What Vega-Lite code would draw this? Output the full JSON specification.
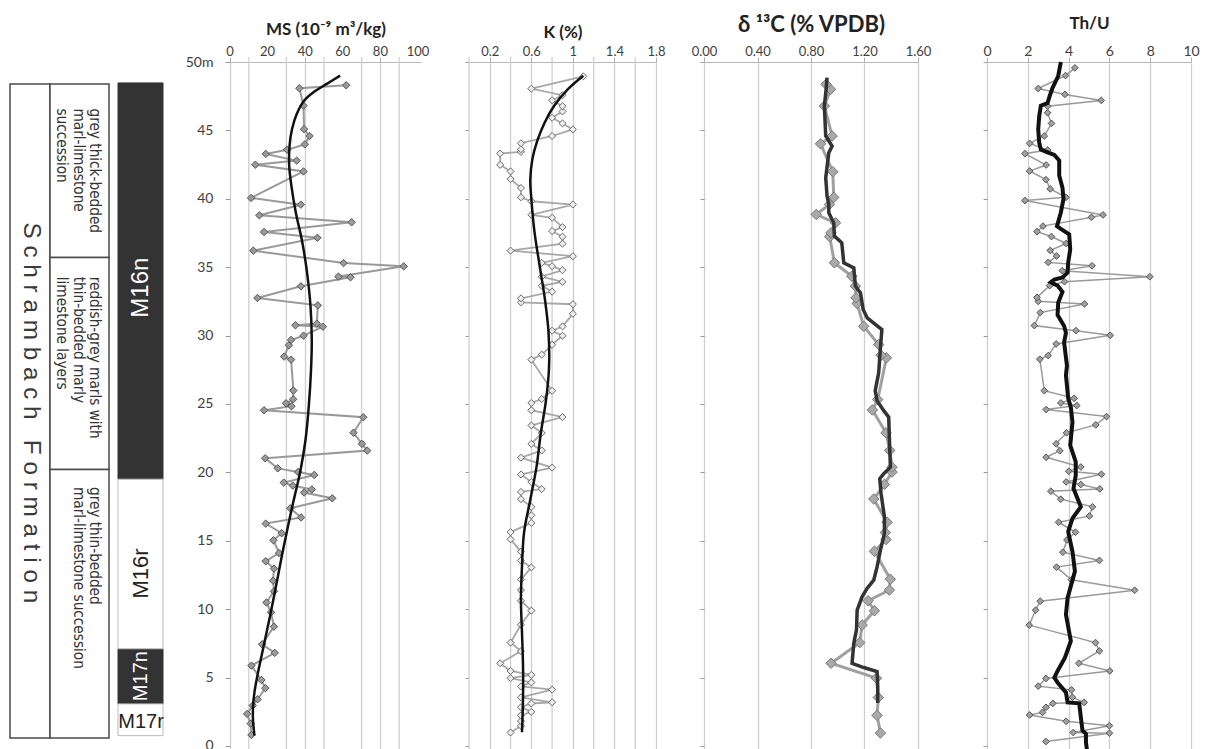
{
"$schema": "https://vega.github.io/schema/vega-lite/v6.json",
"background": "white",
"padding": {"left": 9, "top": 13, "right": 0, "bottom": 0},
"bounds": "flush",
"spacing": 48,
"config": {"view": {"stroke": null}, "axis": {"labelOverlap": false, "labelBound": false, "labelSeparation": 0}},
"datasets": {
"formation": [{"unit": "Schrambach Formation", "top": 48.4, "bottom": 0.58, "label": "S c h r a m b a c h \u00a0\u00a0F o r m a t i o n", "label_at": 24.35}],
"litho": [
{"unit": "upper", "top": 48.4, "bottom": 35.7, "text": "grey thick-bedded\nmarl-limestone\nsuccession", "text_at": 46.6},
{"unit": "middle", "top": 35.7, "bottom": 20.2, "text": "reddish-grey marls with\nthin-bedded marly\nlimestone layers", "text_at": 34.3},
{"unit": "lower", "top": 20.2, "bottom": 0.58, "text": "grey thin-bedded\nmarl-limestone succession", "text_at": 18.93}
],
"magneto": [
{"chron": "M16n", "polarity": "normal", "top": 48.47, "bottom": 19.5, "label_at": 33.5},
{"chron": "M16r", "polarity": "reversed", "top": 19.5, "bottom": 7.1, "label_at": 12.6},
{"chron": "M17n", "polarity": "normal", "top": 7.1, "bottom": 3.07, "label_at": 5.1},
{"chron": "M17r", "polarity": "reversed", "top": 3.07, "bottom": 0.75, "label_at": 1.75}
],
"ms_minor": [{"g": 10}, {"g": 30}, {"g": 50}, {"g": 70}, {"g": 90}],
"ms_ticks": [{"g": 0}, {"g": 20}, {"g": 40}, {"g": 60}, {"g": 80}, {"g": 100}],
"k_minor": [{"g": 0}, {"g": 0.4}, {"g": 0.8}, {"g": 1.2}, {"g": 1.6}],
"ms": [{"d":0.8,"v":11.4},{"d":1.63,"v":11.0},{"d":2.34,"v":9.1},{"d":2.95,"v":12.1},{"d":3.41,"v":14.7},{"d":4.22,"v":18.8},{"d":4.82,"v":16.7},{"d":5.87,"v":11.4},{"d":6.8,"v":23.8},{"d":7.43,"v":17.1},{"d":8.72,"v":23.4},{"d":9.77,"v":21.8},{"d":10.48,"v":19.4},{"d":11.3,"v":23.4},{"d":12.08,"v":22.9},{"d":12.96,"v":23.4},{"d":13.5,"v":19.0},{"d":14.1,"v":26.1},{"d":15.03,"v":23.1},{"d":15.55,"v":27.5},{"d":16.25,"v":19.0},{"d":16.7,"v":37.8},{"d":17.37,"v":32.1},{"d":18.1,"v":54.4},{"d":18.52,"v":39.4},{"d":18.75,"v":43.5},{"d":19.03,"v":33.4},{"d":19.25,"v":28.6},{"d":19.81,"v":44.8},{"d":20.03,"v":36.2},{"d":20.29,"v":25.4},{"d":21.03,"v":18.7},{"d":21.59,"v":73.0},{"d":22.08,"v":70.2},{"d":22.9,"v":65.7},{"d":24.03,"v":70.9},{"d":24.54,"v":18.1},{"d":24.83,"v":32.7},{"d":25.05,"v":29.8},{"d":25.34,"v":33.6},{"d":25.98,"v":33.7},{"d":28.24,"v":32.5},{"d":28.46,"v":28.8},{"d":29.29,"v":31.3},{"d":29.68,"v":32.5},{"d":29.99,"v":39.1},{"d":30.65,"v":49.4},{"d":30.75,"v":34.8},{"d":30.87,"v":46.2},{"d":32.21,"v":46.7},{"d":32.75,"v":14.6},{"d":33.6,"v":37.7},{"d":34.26,"v":64.1},{"d":34.31,"v":57.7},{"d":35.06,"v":92.4},{"d":35.3,"v":60.4},{"d":36.21,"v":12.4},{"d":37.15,"v":46.5},{"d":37.57,"v":18.1},{"d":38.28,"v":64.7},{"d":38.79,"v":15.6},{"d":39.57,"v":37.7},{"d":40.06,"v":11.2},{"d":42.0,"v":39.1},{"d":42.49,"v":13.5},{"d":42.79,"v":35.5},{"d":43.28,"v":19.0},{"d":43.59,"v":30.4},{"d":43.98,"v":39.8},{"d":44.59,"v":42.3},{"d":45.09,"v":39.4},{"d":46.81,"v":39.1},{"d":48.08,"v":36.9},{"d":48.3,"v":61.8}],
"ms_trend": [{"d":0.75,"v":13.0},{"d":2.0,"v":12.2},{"d":3.0,"v":12.3},{"d":4.0,"v":13.1},{"d":5.15,"v":14.6},{"d":7.1,"v":17.6},{"d":9.5,"v":21.3},{"d":11.7,"v":24.5},{"d":13.9,"v":27.6},{"d":16.1,"v":30.9},{"d":17.8,"v":33.6},{"d":18.8,"v":35.3},{"d":20.0,"v":37.3},{"d":22.4,"v":40.2},{"d":25.0,"v":42.0},{"d":27.5,"v":43.1},{"d":29.7,"v":43.5},{"d":32.2,"v":42.8},{"d":35.0,"v":40.6},{"d":37.0,"v":38.2},{"d":39.0,"v":35.0},{"d":41.0,"v":32.6},{"d":42.4,"v":31.5},{"d":43.9,"v":31.7},{"d":45.1,"v":33.0},{"d":46.2,"v":35.5},{"d":47.2,"v":39.6},{"d":47.8,"v":44.5},{"d":48.4,"v":51.5},{"d":49.0,"v":58.6}],
"k": [{"d":0.98,"v":0.4},{"d":1.46,"v":0.5},{"d":1.82,"v":0.5},{"d":2.23,"v":0.5},{"d":2.49,"v":0.6},{"d":2.83,"v":0.5},{"d":3.1,"v":0.6},{"d":3.19,"v":0.8},{"d":3.55,"v":0.5},{"d":4.11,"v":0.8},{"d":4.35,"v":0.5},{"d":4.64,"v":0.6},{"d":4.95,"v":0.4},{"d":5.19,"v":0.6},{"d":5.48,"v":0.4},{"d":6.04,"v":0.3},{"d":6.93,"v":0.5},{"d":7.55,"v":0.4},{"d":8.86,"v":0.5},{"d":9.89,"v":0.6},{"d":10.61,"v":0.5},{"d":11.39,"v":0.5},{"d":12.16,"v":0.5},{"d":13.05,"v":0.6},{"d":13.55,"v":0.5},{"d":14.2,"v":0.5},{"d":15.1,"v":0.4},{"d":15.63,"v":0.4},{"d":16.3,"v":0.6},{"d":16.86,"v":0.6},{"d":17.48,"v":0.6},{"d":18.04,"v":0.5},{"d":18.57,"v":0.5},{"d":18.78,"v":0.7},{"d":19.29,"v":0.6},{"d":19.84,"v":0.5},{"d":20.35,"v":0.8},{"d":21.07,"v":0.5},{"d":21.6,"v":0.7},{"d":22.08,"v":0.6},{"d":22.88,"v":0.7},{"d":23.43,"v":0.6},{"d":24.04,"v":0.9},{"d":24.54,"v":0.6},{"d":25.07,"v":0.6},{"d":25.36,"v":0.7},{"d":25.96,"v":0.8},{"d":28.24,"v":0.6},{"d":28.61,"v":0.7},{"d":29.33,"v":0.8},{"d":29.99,"v":0.9},{"d":30.35,"v":0.8},{"d":30.67,"v":0.9},{"d":31.59,"v":1.0},{"d":32.29,"v":1.0},{"d":32.43,"v":0.5},{"d":32.72,"v":0.5},{"d":33.21,"v":0.8},{"d":33.64,"v":0.7},{"d":33.93,"v":0.9},{"d":34.3,"v":0.7},{"d":34.78,"v":0.9},{"d":35.07,"v":0.8},{"d":35.31,"v":0.7},{"d":35.8,"v":1.0},{"d":36.21,"v":0.4},{"d":36.72,"v":0.9},{"d":37.23,"v":0.9},{"d":37.64,"v":0.8},{"d":37.93,"v":0.9},{"d":38.61,"v":0.8},{"d":38.83,"v":0.6},{"d":39.58,"v":1.0},{"d":39.82,"v":0.6},{"d":40.11,"v":0.5},{"d":40.79,"v":0.5},{"d":41.44,"v":0.4},{"d":42.0,"v":0.4},{"d":42.48,"v":0.3},{"d":43.31,"v":0.3},{"d":43.43,"v":0.5},{"d":43.62,"v":0.5},{"d":44.06,"v":0.5},{"d":44.59,"v":0.8},{"d":45.07,"v":1.0},{"d":45.51,"v":0.9},{"d":45.92,"v":0.8},{"d":46.38,"v":0.9},{"d":46.77,"v":0.9},{"d":47.2,"v":0.8},{"d":47.57,"v":0.9},{"d":48.05,"v":0.6},{"d":48.95,"v":1.1}],
"k_trend": [{"d":1.0,"v":0.51},{"d":3.5,"v":0.52},{"d":5.9,"v":0.52},{"d":8.3,"v":0.51},{"d":10.7,"v":0.5},{"d":13.1,"v":0.51},{"d":15.6,"v":0.53},{"d":18.0,"v":0.59},{"d":20.4,"v":0.65},{"d":22.8,"v":0.69},{"d":25.2,"v":0.74},{"d":27.6,"v":0.77},{"d":30.3,"v":0.765},{"d":32.7,"v":0.73},{"d":35.1,"v":0.68},{"d":37.6,"v":0.63},{"d":40.0,"v":0.6},{"d":41.4,"v":0.59},{"d":42.9,"v":0.61},{"d":44.3,"v":0.66},{"d":45.6,"v":0.73},{"d":46.8,"v":0.82},{"d":48.0,"v":0.95},{"d":49.0,"v":1.1}],
"c": [{"d":0.94,"v":1.319},{"d":2.23,"v":1.294},{"d":3.54,"v":1.303},{"d":4.95,"v":1.289},{"d":6.04,"v":0.95},{"d":7.55,"v":1.164},{"d":8.84,"v":1.182},{"d":9.88,"v":1.274},{"d":10.61,"v":1.227},{"d":11.39,"v":1.386},{"d":12.19,"v":1.393},{"d":14.23,"v":1.274},{"d":15.09,"v":1.361},{"d":15.6,"v":1.356},{"d":16.35,"v":1.369},{"d":18.05,"v":1.269},{"d":19.12,"v":1.349},{"d":20.02,"v":1.406},{"d":20.38,"v":1.406},{"d":21.6,"v":1.389},{"d":22.89,"v":1.361},{"d":24.56,"v":1.259},{"d":25.32,"v":1.299},{"d":28.37,"v":1.364},{"d":28.56,"v":1.324},{"d":29.34,"v":1.306},{"d":30.68,"v":1.194},{"d":32.34,"v":1.145},{"d":32.76,"v":1.137},{"d":33.61,"v":1.132},{"d":34.34,"v":1.105},{"d":35.32,"v":0.975},{"d":37.22,"v":0.94},{"d":37.51,"v":0.95},{"d":38.24,"v":0.983},{"d":38.85,"v":0.839},{"d":39.59,"v":0.938},{"d":40.1,"v":0.97},{"d":41.98,"v":0.963},{"d":44.02,"v":0.871},{"d":44.59,"v":0.958},{"d":46.78,"v":0.9},{"d":48.0,"v":0.946},{"d":48.37,"v":0.913}],
"c_smooth": [{"d":3.13,"v":1.299},{"d":4.34,"v":1.299},{"d":5.44,"v":1.294},{"d":5.73,"v":1.194},{"d":6.04,"v":1.107},{"d":7.5,"v":1.12},{"d":8.48,"v":1.14},{"d":9.93,"v":1.145},{"d":10.9,"v":1.182},{"d":11.51,"v":1.219},{"d":12.12,"v":1.269},{"d":13.09,"v":1.294},{"d":14.31,"v":1.319},{"d":15.52,"v":1.349},{"d":16.74,"v":1.349},{"d":18.44,"v":1.324},{"d":19.53,"v":1.314},{"d":19.9,"v":1.344},{"d":20.38,"v":1.394},{"d":21.6,"v":1.389},{"d":24.03,"v":1.381},{"d":24.51,"v":1.344},{"d":25.24,"v":1.294},{"d":25.97,"v":1.28},{"d":27.27,"v":1.306},{"d":29.22,"v":1.32},{"d":30.44,"v":1.33},{"d":31.3,"v":1.22},{"d":31.9,"v":1.19},{"d":33.12,"v":1.17},{"d":33.61,"v":1.132},{"d":34.95,"v":1.12},{"d":35.32,"v":1.045},{"d":36.78,"v":1.03},{"d":37.27,"v":0.975},{"d":38.24,"v":0.97},{"d":38.98,"v":0.933},{"d":39.6,"v":0.933},{"d":40.2,"v":0.92},{"d":41.54,"v":0.91},{"d":43.37,"v":0.933},{"d":43.85,"v":0.958},{"d":44.6,"v":0.91},{"d":46.8,"v":0.9},{"d":48.0,"v":0.913},{"d":48.85,"v":0.92}],
"thu": [{"d":0.32,"v":2.89},{"d":0.93,"v":6.0},{"d":0.98,"v":4.23},{"d":1.48,"v":6.0},{"d":1.8,"v":3.88},{"d":2.26,"v":2.09},{"d":2.45,"v":2.72},{"d":2.82,"v":2.89},{"d":3.11,"v":3.23},{"d":3.18,"v":4.76},{"d":3.55,"v":4.19},{"d":4.1,"v":4.14},{"d":4.37,"v":2.51},{"d":4.93,"v":2.89},{"d":5.48,"v":6.02},{"d":6.04,"v":4.5},{"d":6.94,"v":5.51},{"d":7.55,"v":5.32},{"d":8.83,"v":2.07},{"d":9.92,"v":2.38},{"d":10.58,"v":2.61},{"d":11.38,"v":7.24},{"d":12.15,"v":4.14},{"d":13.07,"v":3.41},{"d":13.56,"v":5.51},{"d":14.16,"v":3.72},{"d":15.06,"v":3.92},{"d":15.62,"v":4.34},{"d":16.35,"v":3.51},{"d":16.81,"v":5.02},{"d":17.48,"v":5.17},{"d":18.04,"v":3.62},{"d":18.62,"v":3.13},{"d":18.79,"v":5.53},{"d":19.11,"v":4.6},{"d":19.3,"v":3.88},{"d":19.86,"v":5.61},{"d":20.08,"v":4.01},{"d":20.39,"v":4.6},{"d":21.1,"v":2.9},{"d":21.58,"v":3.57},{"d":22.09,"v":3.39},{"d":22.89,"v":3.9},{"d":23.47,"v":5.33},{"d":24.08,"v":5.86},{"d":24.59,"v":2.9},{"d":24.88,"v":4.4},{"d":25.07,"v":3.62},{"d":25.41,"v":4.27},{"d":25.97,"v":2.81},{"d":28.27,"v":2.59},{"d":28.54,"v":3.0},{"d":29.39,"v":3.39},{"d":30.02,"v":6.04},{"d":30.36,"v":4.36},{"d":30.73,"v":2.32},{"d":31.68,"v":2.61},{"d":32.31,"v":4.78},{"d":32.5,"v":2.51},{"d":32.79,"v":2.45},{"d":33.65,"v":3.07},{"d":33.94,"v":3.8},{"d":34.3,"v":7.98},{"d":34.74,"v":3.69},{"d":35.1,"v":5.15},{"d":35.35,"v":3.0},{"d":35.81,"v":3.41},{"d":36.22,"v":3.1},{"d":36.73,"v":3.88},{"d":37.24,"v":3.16},{"d":37.6,"v":2.45},{"d":38.0,"v":2.74},{"d":38.65,"v":5.12},{"d":38.82,"v":5.69},{"d":39.87,"v":1.86},{"d":40.11,"v":3.87},{"d":40.72,"v":3.1},{"d":41.4,"v":2.89},{"d":42.03,"v":2.09},{"d":42.47,"v":2.9},{"d":43.3,"v":1.86},{"d":43.57,"v":2.97},{"d":44.05,"v":2.09},{"d":44.59,"v":2.81},{"d":45.51,"v":3.16},{"d":46.29,"v":2.97},{"d":46.77,"v":2.97},{"d":47.19,"v":5.6},{"d":47.63,"v":3.82},{"d":48.06,"v":2.51},{"d":49.01,"v":3.85},{"d":49.57,"v":4.31}],
"thu_avg": [{"d":-0.3,"v":4.9},{"d":0.27,"v":4.85},{"d":0.88,"v":4.85},{"d":1.12,"v":4.68},{"d":2.09,"v":4.6},{"d":3.11,"v":4.52},{"d":3.18,"v":3.95},{"d":3.91,"v":3.87},{"d":4.64,"v":3.46},{"d":5.0,"v":3.3},{"d":5.48,"v":3.46},{"d":6.45,"v":3.82},{"d":7.67,"v":4.11},{"d":9.6,"v":3.87},{"d":10.82,"v":3.95},{"d":12.76,"v":4.31},{"d":14.21,"v":4.19},{"d":15.67,"v":3.98},{"d":16.64,"v":4.19},{"d":17.48,"v":4.6},{"d":18.82,"v":4.24},{"d":19.79,"v":4.35},{"d":20.76,"v":4.35},{"d":21.97,"v":4.08},{"d":23.67,"v":4.19},{"d":24.76,"v":4.11},{"d":25.4,"v":3.98},{"d":27.1,"v":3.87},{"d":27.8,"v":3.92},{"d":29.5,"v":3.78},{"d":30.2,"v":3.87},{"d":30.7,"v":3.78},{"d":31.5,"v":3.46},{"d":32.4,"v":3.49},{"d":33.2,"v":3.7},{"d":33.65,"v":3.46},{"d":33.9,"v":3.13},{"d":34.1,"v":3.3},{"d":34.25,"v":3.7},{"d":34.6,"v":3.95},{"d":35.35,"v":3.98},{"d":36.3,"v":4.08},{"d":37.4,"v":4.03},{"d":37.8,"v":3.62},{"d":38.0,"v":3.43},{"d":39.0,"v":3.62},{"d":40.0,"v":3.75},{"d":40.8,"v":3.7},{"d":41.7,"v":3.54},{"d":42.8,"v":3.54},{"d":43.2,"v":3.3},{"d":43.4,"v":2.97},{"d":43.6,"v":2.64},{"d":44.1,"v":2.56},{"d":45.07,"v":2.51},{"d":46.05,"v":2.56},{"d":46.8,"v":2.64},{"d":47.0,"v":2.97},{"d":47.5,"v":3.07},{"d":48.1,"v":3.21},{"d":48.96,"v":3.49},{"d":50.0,"v":3.62}]
},
"hconcat": [
{
"width": 172, "height": 688,
"layer": [
{"data": {"name": "formation"}, "mark": {"type": "rect", "fill": "white", "stroke": "#4a4a4a", "strokeWidth": 1.5},
 "encoding": {"x": {"datum": 0, "type": "quantitative", "scale": {"domain": [0, 172], "nice": false, "zero": false}, "axis": null}, "x2": {"datum": 40},
  "y": {"field": "top", "type": "quantitative", "scale": {"domain": [-0.3, 50], "nice": false, "zero": false}, "axis": null}, "y2": {"field": "bottom"}}},
{"data": {"name": "litho"}, "mark": {"type": "rect", "fill": "white", "stroke": "#4a4a4a", "strokeWidth": 1.5},
 "encoding": {"x": {"datum": 40, "type": "quantitative"}, "x2": {"datum": 99}, "y": {"field": "top", "type": "quantitative"}, "y2": {"field": "bottom"}}},
{"data": {"name": "magneto"}, "transform": [{"filter": "datum.polarity == 'normal'"}], "mark": {"type": "rect", "fill": "#333333", "stroke": "#333333", "strokeWidth": 1},
 "encoding": {"x": {"datum": 108, "type": "quantitative"}, "x2": {"datum": 153}, "y": {"field": "top", "type": "quantitative"}, "y2": {"field": "bottom"}}},
{"data": {"name": "magneto"}, "transform": [{"filter": "datum.polarity == 'reversed'"}], "mark": {"type": "rect", "fill": "white", "stroke": "#bbbbbb", "strokeWidth": 1},
 "encoding": {"x": {"datum": 108, "type": "quantitative"}, "x2": {"datum": 153}, "y": {"field": "top", "type": "quantitative"}, "y2": {"field": "bottom"}}},
{"data": {"name": "formation"}, "mark": {"type": "text", "angle": 90, "align": "center", "baseline": "middle", "font": "Liberation Sans", "fontSize": 24.3, "fill": "#3a3a3a"},
 "encoding": {"x": {"datum": 21, "type": "quantitative"}, "y": {"field": "label_at", "type": "quantitative"}, "text": {"field": "label"}}},
{"data": {"name": "litho"}, "mark": {"type": "text", "angle": 90, "align": "left", "baseline": "top", "lineBreak": "\n", "lineHeight": 16.5, "font": "Liberation Sans Narrow, DejaVu Sans Condensed, sans-serif", "fontSize": 15.2, "fill": "#333333"},
 "encoding": {"x": {"datum": 92, "type": "quantitative"}, "y": {"field": "text_at", "type": "quantitative"}, "text": {"field": "text"}}},
{"data": {"name": "magneto"}, "transform": [{"filter": "datum.chron == 'M16n'"}], "mark": {"type": "text", "angle": 270, "align": "center", "baseline": "middle", "font": "Liberation Sans", "fontSize": 24, "fill": "white"},
 "encoding": {"x": {"datum": 131, "type": "quantitative"}, "y": {"field": "label_at", "type": "quantitative"}, "text": {"field": "chron"}}},
{"data": {"name": "magneto"}, "transform": [{"filter": "datum.chron == 'M16r'"}], "mark": {"type": "text", "angle": 270, "align": "center", "baseline": "middle", "font": "Liberation Sans", "fontSize": 22, "fill": "#222222"},
 "encoding": {"x": {"datum": 131, "type": "quantitative"}, "y": {"field": "label_at", "type": "quantitative"}, "text": {"field": "chron"}}},
{"data": {"name": "magneto"}, "transform": [{"filter": "datum.chron == 'M17n'"}], "mark": {"type": "text", "angle": 270, "align": "center", "baseline": "middle", "font": "Liberation Sans", "fontSize": 20, "fill": "white"},
 "encoding": {"x": {"datum": 131, "type": "quantitative"}, "y": {"field": "label_at", "type": "quantitative"}, "text": {"field": "chron"}}},
{"data": {"name": "magneto"}, "transform": [{"filter": "datum.chron == 'M17r'"}], "mark": {"type": "text", "angle": 0, "align": "center", "baseline": "middle", "font": "Liberation Sans", "fontSize": 20, "fill": "#222222"},
 "encoding": {"x": {"datum": 131, "type": "quantitative"}, "y": {"field": "label_at", "type": "quantitative"}, "text": {"field": "chron"}}}
]
},
{
"width": 191, "height": 688,
"layer": [
{"data": {"name": "ms_minor"}, "mark": {"type": "rule", "color": "#cfcfcf", "strokeWidth": 1.3},
 "encoding": {
  "x": {"field": "g", "type": "quantitative", "scale": {"domain": [0, 101.6], "nice": false, "zero": false},
   "axis": {"orient": "top", "values": [0,20,40,60,80,100], "labels": false, "tickSize": 5, "tickColor": "#b0b0b0", "domainColor": "#b8b8b8", "grid": true, "gridColor": "#cfcfcf", "gridWidth": 1.3, "title": "MS (10⁻⁹ m³/kg)", "titleFont": "Lato", "titleFontSize": 17, "titleFontWeight": "bold", "titleColor": "#222222", "titlePadding": 18}},
  "y": {"datum": 50.37, "type": "quantitative", "scale": {"domain": [-0.3, 50], "nice": false, "zero": false},
   "axis": {"orient": "left", "values": [0,5,10,15,20,25,30,35,40,45,50], "format": "d", "labelExpr": "datum.value == 50 ? '50m' : datum.label", "domain": false, "grid": false, "tickSize": 5, "tickColor": "#999999", "labelFont": "Lato", "labelFontSize": 14, "labelColor": "#404040", "labelPadding": 12, "title": null}},
  "y2": {"datum": -0.3}}},
{"data": {"name": "ms_ticks"}, "mark": {"type": "text", "align": "center", "baseline": "alphabetic", "font": "Lato", "fontSize": 13, "fill": "#404040"},
 "encoding": {"x": {"field": "g", "type": "quantitative"}, "y": {"datum": 50.44, "type": "quantitative"}, "text": {"field": "g", "type": "quantitative", "format": "d"}}},
{"data": {"name": "ms"}, "mark": {"type": "line", "color": "#999999", "strokeWidth": 2},
 "encoding": {"x": {"field": "v", "type": "quantitative"}, "y": {"field": "d", "type": "quantitative"}, "order": {"field": "d", "type": "quantitative"}}},
{"data": {"name": "ms"}, "mark": {"type": "point", "shape": "diamond", "filled": true, "fill": "#9a9a9a", "stroke": "#555555", "strokeWidth": 1, "size": 55, "opacity": 1},
 "encoding": {"x": {"field": "v", "type": "quantitative"}, "y": {"field": "d", "type": "quantitative"}}},
{"data": {"name": "ms_trend"}, "mark": {"type": "line", "color": "#111111", "strokeWidth": 2.5, "interpolate": "catmull-rom"},
 "encoding": {"x": {"field": "v", "type": "quantitative"}, "y": {"field": "d", "type": "quantitative"}, "order": {"field": "d", "type": "quantitative"}}}
]
},
{
"width": 187, "height": 688,
"layer": [
{"data": {"name": "k_minor"}, "mark": {"type": "rule", "color": "#cfcfcf", "strokeWidth": 1.3},
 "encoding": {
  "x": {"field": "g", "type": "quantitative", "scale": {"domain": [0, 1.8], "nice": false, "zero": false},
   "axis": {"orient": "top", "values": [0.2,0.6,1,1.4,1.8], "labelExpr": "datum.value == 1 ? '1' : format(datum.value, '.1f')", "labelOverlap": false, "labelFlush": false, "labelFont": "Lato", "labelFontSize": 13, "labelColor": "#404040", "labelPadding": -1, "tickSize": 5, "tickColor": "#b0b0b0", "domainColor": "#b8b8b8", "grid": true, "gridColor": "#cfcfcf", "gridWidth": 1.3, "title": "K (%)", "titleFont": "Lato", "titleFontSize": 17, "titleFontWeight": "bold", "titleColor": "#222222", "titlePadding": 4}},
  "y": {"datum": 50.37, "type": "quantitative", "scale": {"domain": [-0.3, 50], "nice": false, "zero": false},
   "axis": {"orient": "left", "values": [0,5,10,15,20,25,30,35,40,45,50], "labels": false, "domain": false, "grid": false, "tickSize": 4, "tickColor": "#999999", "title": null}},
  "y2": {"datum": -0.3}}},
{"data": {"name": "k"}, "mark": {"type": "line", "color": "#a8a8a8", "strokeWidth": 1.8},
 "encoding": {"x": {"field": "v", "type": "quantitative"}, "y": {"field": "d", "type": "quantitative"}, "order": {"field": "d", "type": "quantitative"}}},
{"data": {"name": "k"}, "mark": {"type": "point", "shape": "diamond", "filled": true, "fill": "#ececec", "stroke": "#6a6a6a", "strokeWidth": 1, "size": 50, "opacity": 1},
 "encoding": {"x": {"field": "v", "type": "quantitative"}, "y": {"field": "d", "type": "quantitative"}}},
{"data": {"name": "k_trend"}, "mark": {"type": "line", "color": "#111111", "strokeWidth": 2.5, "interpolate": "catmull-rom"},
 "encoding": {"x": {"field": "v", "type": "quantitative"}, "y": {"field": "d", "type": "quantitative"}, "order": {"field": "d", "type": "quantitative"}}}
]
},
{
"width": 235, "height": 688,
"layer": [
{"data": {"name": "c"}, "mark": {"type": "line", "color": "#a0a0a0", "strokeWidth": 3},
 "encoding": {
  "x": {"field": "v", "type": "quantitative", "scale": {"domain": [0, 1.6], "range": [0, 214], "nice": false, "zero": false},
   "axis": {"orient": "top", "values": [0,0.2,0.4,0.6,0.8,1,1.2,1.4,1.6], "format": ".2f", "labelExpr": "indexof(['0.00','0.40','0.80','1.20','1.60'], datum.label) >= 0 ? datum.label : ''", "labelOverlap": false, "labelFlush": false, "labelFont": "Lato", "labelFontSize": 13, "labelColor": "#404040", "labelPadding": -1, "tickSize": 5, "tickColor": "#b0b0b0", "domainColor": "#b8b8b8", "grid": true, "gridColor": "#cfcfcf", "gridWidth": 1.3, "title": "δ ¹³C (% VPDB)", "titleFont": "Lato", "titleFontSize": 22, "titleFontWeight": "bold", "titleColor": "#222222", "titlePadding": 9}},
  "y": {"field": "d", "type": "quantitative", "scale": {"domain": [-0.3, 50], "nice": false, "zero": false},
   "axis": {"orient": "left", "values": [0,5,10,15,20,25,30,35,40,45,50], "labels": false, "domain": false, "grid": false, "tickSize": 4, "tickColor": "#999999", "title": null}},
  "order": {"field": "d", "type": "quantitative"}}},
{"data": {"name": "c"}, "mark": {"type": "point", "shape": "diamond", "filled": true, "fill": "#a9a9a9", "stroke": "#7a7a7a", "strokeWidth": 1, "size": 110, "opacity": 1},
 "encoding": {"x": {"field": "v", "type": "quantitative"}, "y": {"field": "d", "type": "quantitative"}}},
{"data": {"name": "c_smooth"}, "mark": {"type": "line", "color": "#333333", "strokeWidth": 3.5},
 "encoding": {"x": {"field": "v", "type": "quantitative"}, "y": {"field": "d", "type": "quantitative"}, "order": {"field": "d", "type": "quantitative"}}}
]
},
{
"width": 204, "height": 688,
"layer": [
{"data": {"name": "thu"}, "mark": {"type": "line", "color": "#9a9a9a", "strokeWidth": 1.5},
 "encoding": {
  "x": {"field": "v", "type": "quantitative", "scale": {"domain": [0, 10], "nice": false, "zero": false},
   "axis": {"orient": "top", "values": [0,1,2,3,4,5,6,7,8,9,10], "format": "d", "labelExpr": "datum.value % 2 == 0 ? datum.label : ''", "labelOverlap": false, "labelFlush": false, "labelFont": "Lato", "labelFontSize": 14, "labelColor": "#404040", "labelPadding": -1, "tickSize": 5, "tickColor": "#b0b0b0", "domainColor": "#b8b8b8", "grid": true, "gridColor": "#cfcfcf", "gridWidth": 1.3, "title": "Th/U", "titleFont": "Lato", "titleFontSize": 17, "titleFontWeight": "bold", "titleColor": "#222222", "titlePadding": 12}},
  "y": {"field": "d", "type": "quantitative", "scale": {"domain": [-0.3, 50], "nice": false, "zero": false},
   "axis": {"orient": "left", "values": [0,5,10,15,20,25,30,35,40,45,50], "labels": false, "domain": false, "grid": false, "tickSize": 4, "tickColor": "#999999", "title": null}},
  "order": {"field": "d", "type": "quantitative"}}},
{"data": {"name": "thu"}, "mark": {"type": "point", "shape": "diamond", "filled": true, "fill": "#a0a0a0", "stroke": "#555555", "strokeWidth": 1, "size": 45, "opacity": 1},
 "encoding": {"x": {"field": "v", "type": "quantitative"}, "y": {"field": "d", "type": "quantitative"}}},
{"data": {"name": "thu_avg"}, "mark": {"type": "line", "color": "#111111", "strokeWidth": 4},
 "encoding": {"x": {"field": "v", "type": "quantitative"}, "y": {"field": "d", "type": "quantitative"}, "order": {"field": "d", "type": "quantitative"}}}
]
}
]
}
